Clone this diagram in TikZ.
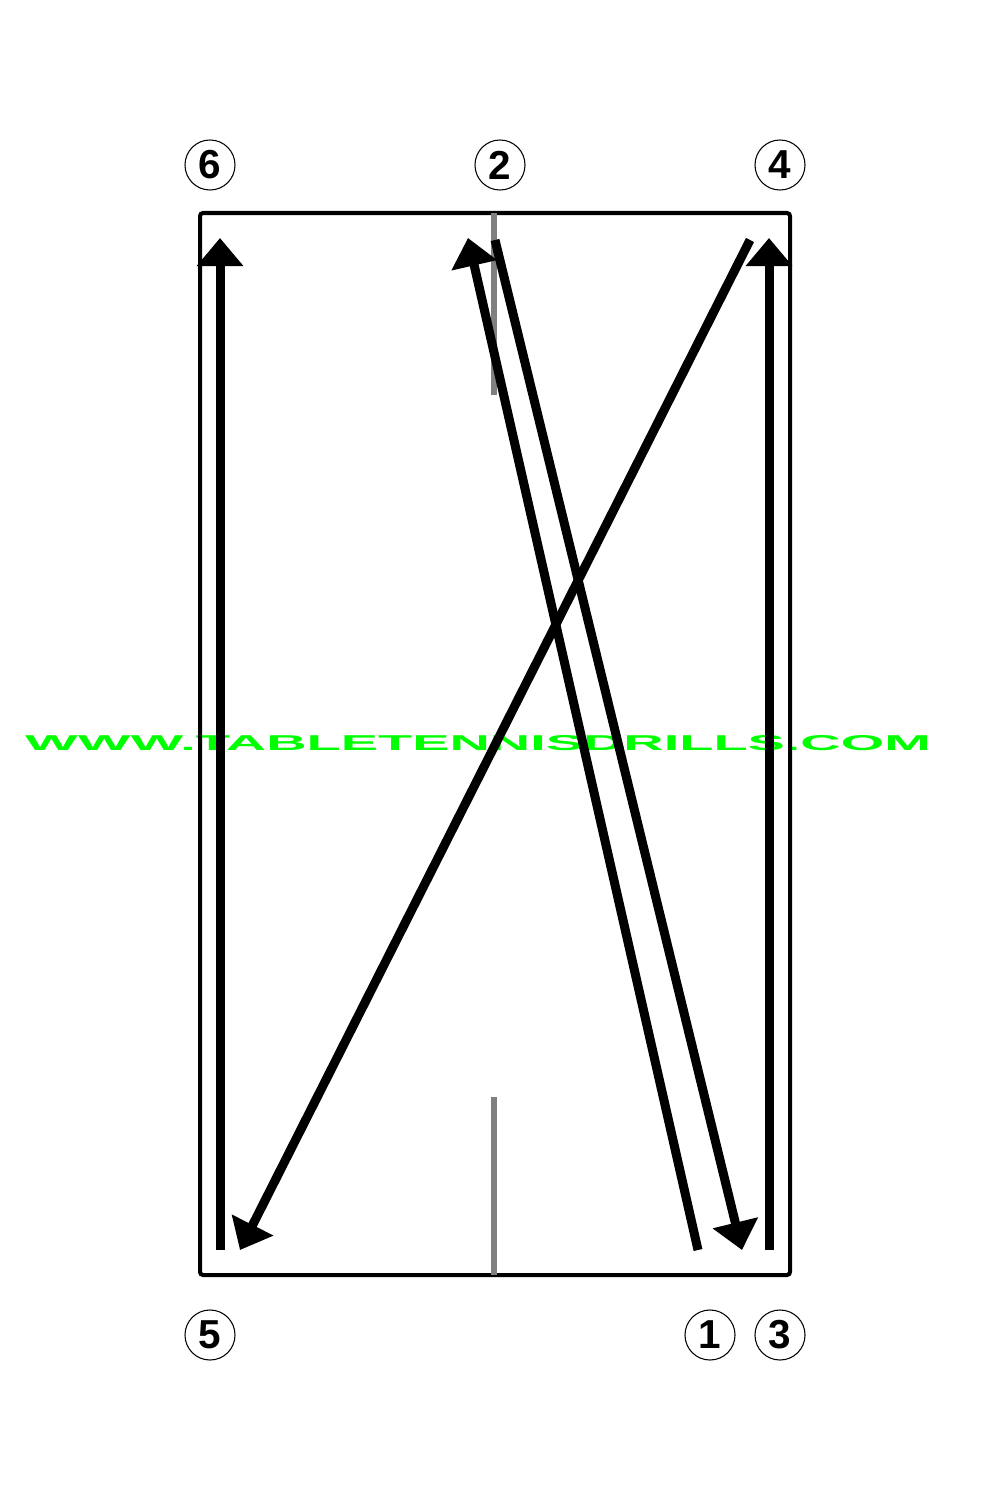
\documentclass[tikz,border=0pt]{standalone}
\usepackage{fontspec}
\setsansfont{Liberation Sans}
\usepackage{tikz}
\usetikzlibrary{positioning,arrows.meta}
\tikzset{num/.style = {circle,draw,line width=0.3pt,inner sep=0pt,minimum size=0.5cm,font=\sffamily\bfseries\fontsize{11.5}{11.5}\selectfont},
         shot/.style = {line width=0.09cm,-{Triangle[width=0.45cm,length=0.28cm]}}}

\begin{document}
\begin{tikzpicture}[x=0.01cm,y=-0.01cm]
                    \useasboundingbox (0,0) rectangle (1000,1500);
                    \node[text=green,inner sep=0pt] (web) at (478,743) {\resizebox{9.05cm}{0.15cm}{\sffamily\bfseries WWW.TABLETENNISDRILLS.COM}};
                    \draw[line width=0.04cm,rounded corners=0.03cm] (200,213) rectangle (790,1275);
                    \draw[gray,line width=0.06cm] (494,213) -- (494,395);
                    \draw[gray,line width=0.06cm] (494,1097) -- (494,1275);
                    \node[num] (n6) at (210,165) {6};
                    \node[num] (n2) at (500,165) {2};
                    \node[num] (n4) at (780,165) {4};
                    \node[num] (n5) at (210,1335) {5};
                    \node[num] (n1) at (710,1335) {1};
                    \node[num] (n3) at (780,1335) {3};
                    \coordinate (A) at (698,1250);
                    \coordinate (B) at (468,238);
                    \coordinate (C) at (495,240);
                    \coordinate (D) at (742,1250);
                    \coordinate (E) at (769,1250);
                    \coordinate (F) at (769,238);
                    \coordinate (G) at (750,240);
                    \coordinate (H) at (240,1250);
                    \coordinate (I) at (220,1250);
                    \coordinate (J) at (220,238);
                    \draw[shot] (A) to (B);
                    \draw[shot] (C) to (D);
                    \draw[shot] (E) to (F);
                    \draw[shot] (G) to (H);
                    \draw[shot] (I) to (J);
                \end{tikzpicture}
\end{document}
